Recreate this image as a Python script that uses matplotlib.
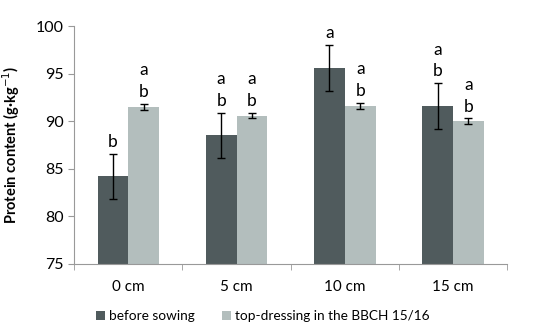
import matplotlib.pyplot as plt
import numpy as np

categories = ["0 cm", "5 cm", "10 cm", "15 cm"]
before = [84.2, 88.5, 95.6, 91.6]
before_err = [2.4, 2.4, 2.4, 2.4]
topdress = [91.5, 90.6, 91.6, 90.0]
topdress_err = [0.35, 0.3, 0.3, 0.3]
before_letters = ["b", "a\nb", "a", "a\nb"]
topdress_letters = ["a\nb", "a\nb", "a\nb", "a\nb"]

plt.rcParams['font.family'] = ['Lato', 'DejaVu Sans']

fig, ax = plt.subplots(figsize=(5.5, 3.31), dpi=100)
fig.subplots_adjust(left=0.135, right=0.922, top=0.921, bottom=0.203)

x = np.arange(len(categories))
w = 0.285
dark = '#505b5d'
light = '#b3bebd'

ax.bar(x - w/2, before, w, color=dark, label='before sowing')
ax.bar(x + w/2, topdress, w, color=light, label='top-dressing in the BBCH 15/16')
ax.errorbar(x - w/2, before, yerr=before_err, fmt='none', ecolor='black',
            elinewidth=1, capsize=3, capthick=1)
ax.errorbar(x + w/2, topdress, yerr=topdress_err, fmt='none', ecolor='black',
            elinewidth=1, capsize=3, capthick=1)

for i in range(len(categories)):
    ax.text(x[i] - w/2, before[i] + before_err[i] + 0.4, before_letters[i],
            ha='center', va='bottom', fontsize=12.5, linespacing=1.45)
    ax.text(x[i] + w/2, topdress[i] + topdress_err[i] + 0.4, topdress_letters[i],
            ha='center', va='bottom', fontsize=12.5, linespacing=1.45)

ax.set_ylim(75, 100)
ax.set_yticks([75, 80, 85, 90, 95, 100])
ax.set_xlim(-0.5, len(categories) - 0.5)
ax.set_xticks(x)
ax.set_xticklabels(categories)
ax.set_xticks(np.arange(len(categories) + 1) - 0.5, minor=True)
ax.tick_params(axis='x', which='major', length=0, pad=12, labelsize=11)
ax.tick_params(axis='x', which='minor', length=4, color='#999999')
ax.tick_params(axis='y', length=4, color='#999999', labelsize=11.5)
ax.set_ylabel('Protein content (g·kg$^{-1}$)', fontsize=10.5, fontweight='bold', labelpad=10)

for s in ['top', 'right']:
    ax.spines[s].set_visible(False)
for s in ['left', 'bottom']:
    ax.spines[s].set_color('#999999')

fig.legend(*ax.get_legend_handles_labels(), loc='center', bbox_to_anchor=(0.478, 0.045),
           ncol=2, frameon=False, fontsize=9.8, handlelength=0.65, handleheight=0.65,
           handletextpad=0.3, columnspacing=2.0)

plt.savefig('out.png')
